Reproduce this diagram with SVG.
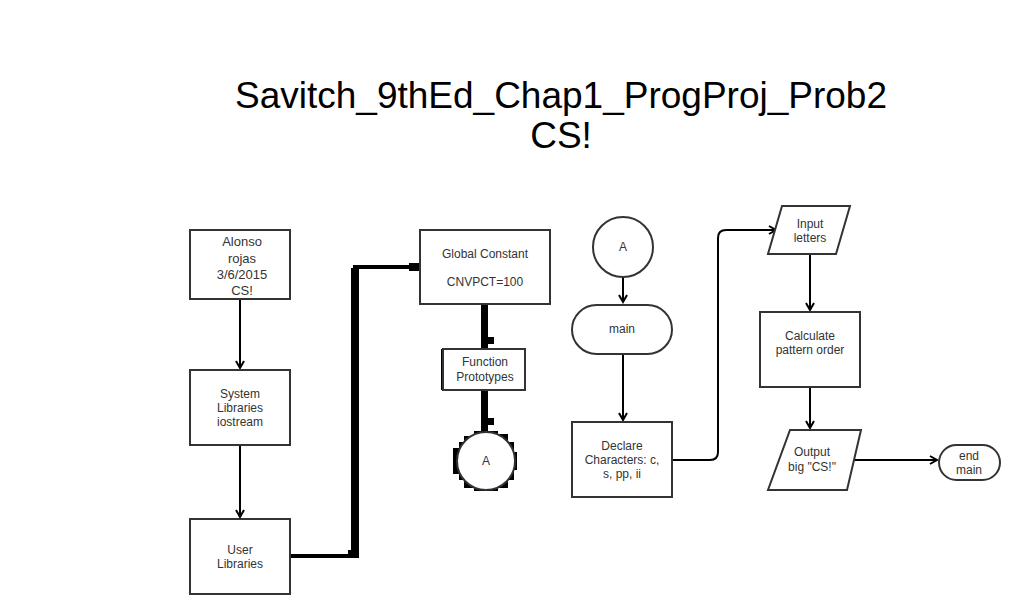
<svg xmlns="http://www.w3.org/2000/svg" width="1026" height="615" viewBox="0 0 1026 615">
<defs>
<marker id="arr" markerWidth="10" markerHeight="10" refX="8" refY="5" orient="auto" markerUnits="userSpaceOnUse">
<path d="M1,1 L8,5 L1,9" fill="none" stroke="#000" stroke-width="2"/>
</marker>
</defs>
<style>
.b{fill:#fff;stroke:#333;stroke-width:2}
.t{font-family:"Liberation Sans",Arial,sans-serif;font-size:12px;fill:#333;text-anchor:middle}
.c{fill:none;stroke:#000;stroke-width:2}
.k{fill:#000}
.h{font-family:"Liberation Sans",Arial,sans-serif;font-size:37px;fill:#000;text-anchor:middle}
</style>
<rect width="1026" height="615" fill="#fff"/>
<g id="title">
<text class="h" x="561" y="108">Savitch_9thEd_Chap1_ProgProj_Prob2</text>
<text class="h" x="561" y="148">CS!</text>
</g>
<g id="connectors">
<path class="c" d="M240,299 V368" marker-end="url(#arr)"/>
<path class="c" d="M240,445 V517" marker-end="url(#arr)"/>
<path d="M290,556 H355 V267 H418" fill="none" stroke="#000" stroke-width="4"/>
<rect class="k" x="351" y="268" width="8" height="290"/>
<rect class="k" x="348" y="550" width="11" height="8"/>
<rect class="k" x="409" y="263" width="11" height="8"/>
<rect class="k" x="481" y="304" width="7" height="45"/>
<rect class="k" x="486" y="337" width="8" height="7"/>
<rect class="k" x="481" y="390" width="7" height="42"/>
<rect class="k" x="486" y="418" width="8" height="7"/>
<rect class="k" x="441" y="349" width="5" height="41"/>
<path class="c" d="M623,277 V302" marker-end="url(#arr)"/>
<path class="c" d="M623,354 V420" marker-end="url(#arr)"/>
<path class="c" d="M672,460 H710 Q718,460 718,452 V238 Q718,230 726,230 H776" marker-end="url(#arr)"/>
<path class="c" d="M810,254 V310" marker-end="url(#arr)"/>
<path class="c" d="M810,387 V428" marker-end="url(#arr)"/>
<path class="c" d="M851,460 H937" marker-end="url(#arr)"/>
</g>
<g id="n1"><rect class="b" x="190" y="230" width="100" height="69"/>
<text class="t" x="242" y="246" style="font-size:13px">Alonso</text>
<text class="t" x="242" y="263" style="font-size:13px">rojas</text>
<text class="t" x="242" y="279" style="font-size:13px">3/6/2015</text>
<text class="t" x="242" y="295" style="font-size:13px">CS!</text></g>
<g id="n2"><rect class="b" x="190" y="370" width="100" height="75"/>
<text class="t" x="240" y="398">System</text><text class="t" x="240" y="412">Libraries</text><text class="t" x="240" y="426">iostream</text></g>
<g id="n3"><rect class="b" x="190" y="519" width="100" height="75"/>
<text class="t" x="240" y="554">User</text><text class="t" x="240" y="568">Libraries</text></g>
<g id="n4"><rect class="b" x="420" y="230" width="130" height="74"/>
<text class="t" x="485" y="258">Global Constant</text><text class="t" x="485" y="286">CNVPCT=100</text></g>
<g id="n5"><rect class="b" x="443" y="349" width="82" height="41"/>
<text class="t" x="485" y="366">Function</text><text class="t" x="485" y="381">Prototypes</text></g>
<g id="n6">
<path class="k" d="M464,436 H474 V431 H498 V434 H508 V442 H514 V452 H517 V470 H514 V480 H508 V488 H498 V491 H474 V488 H464 V480 H459 V474 H453 V448 H459 V442 H464 Z"/>
<circle class="b" cx="486" cy="461" r="29"/>
<text class="t" x="486" y="465">A</text></g>
<g id="n7"><circle class="b" cx="623" cy="247" r="30"/><text class="t" x="623" y="251">A</text></g>
<g id="n8"><rect class="b" x="572" y="305" width="100" height="49" rx="24.5"/><text class="t" x="622" y="333">main</text></g>
<g id="n9"><rect class="b" x="572" y="422" width="100" height="75"/>
<text class="t" x="622" y="450">Declare</text><text class="t" x="622" y="464">Characters: c,</text><text class="t" x="622" y="478">s, pp, ii</text></g>
<g id="n10"><polygon class="b" points="782,206 850,206 836,254 768,254"/>
<text class="t" x="810" y="228">Input</text><text class="t" x="810" y="242">letters</text></g>
<g id="n11"><rect class="b" x="760" y="312" width="100" height="75"/>
<text class="t" x="810" y="340">Calculate</text><text class="t" x="810" y="354">pattern order</text></g>
<g id="n12"><polygon class="b" points="790,430 861,430 847,490 768,490"/>
<text class="t" x="812" y="456">Output</text><text class="t" x="812" y="471">big "CS!"</text></g>
<g id="n13"><rect class="b" x="939" y="445" width="61" height="35" rx="17.5"/>
<text class="t" x="969" y="460">end</text><text class="t" x="969" y="474">main</text></g>
</svg>
